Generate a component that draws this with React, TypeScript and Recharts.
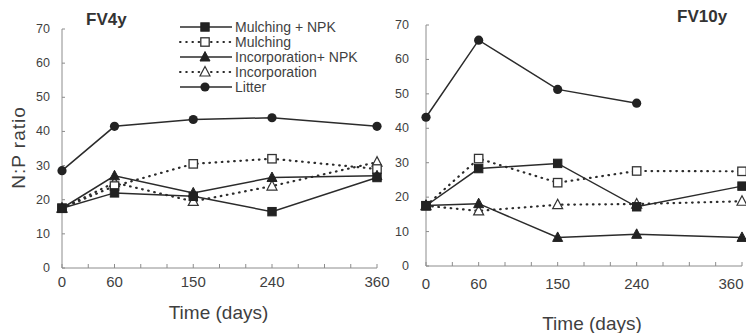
import React from 'react';
import { LineChart, Line, XAxis, YAxis, Legend } from 'recharts';

// ---------- data ----------
const days = [0, 60, 150, 240, 360];
const xTicks = [0, 30, 60, 90, 120, 150, 180, 210, 240, 270, 300, 330, 360];
const xTickLabels = [0, 60, 150, 240, 360];
const yTicks = [0, 10, 20, 30, 40, 50, 60, 70];
const seriesNames = ['Mulching + NPK', 'Mulching', 'Incorporation+ NPK', 'Incorporation', 'Litter'];
const panelTitles = ['FV4y', 'FV10y'];
const xAxisTitle = 'Time (days)';
const yAxisTitle = 'N:P ratio';

const fv4yMulchingNPK = [17.5, 22, 21, 16.5, 26.5];
const fv4yMulching = [17.5, 24, 30.5, 32, 29];
const fv4yIncorporationNPK = [17.5, 27, 22, 26.5, 27];
const fv4yIncorporation = [17.5, 25, 19.5, 24, 31];
const fv4yLitter = [28.5, 41.5, 43.5, 44, 41.5];

const fv10yMulchingNPK = [17.5, 28.3, 29.8, 17.2, 23.2];
const fv10yMulching = [17.5, 31.2, 24.2, 27.6, 27.5];
const fv10yIncorporationNPK = [17.6, 18.1, 8.3, 9.2, 8.3];
const fv10yIncorporation = [17.5, 16, 17.8, 18, 18.8];
const fv10yLitter: (number | null)[] = [43.2, 65.6, 51.3, 47.3, null];

const seriesKeys = ['mnpk', 'm', 'inpk', 'inc', 'litter'];
const seriesShapes = ['squareFilled', 'squareOpen', 'triFilled', 'triOpen', 'circle'];
const seriesDashed = [false, true, false, true, false];
const drawOrder = [3, 1, 2, 0, 4];

const buildRows = (cols: (number | null)[][]) =>
  days.map((d, i) => {
    const row: any = { day: d };
    seriesKeys.forEach((k, s) => (row[k] = cols[s][i]));
    return row;
  });

const fv4yData = buildRows([fv4yMulchingNPK, fv4yMulching, fv4yIncorporationNPK, fv4yIncorporation, fv4yLitter]);
const fv10yData = buildRows([fv10yMulchingNPK, fv10yMulching, fv10yIncorporationNPK, fv10yIncorporation, fv10yLitter]);

// ---------- styles ----------
const FONT = '"Liberation Sans", Arial, Helvetica, sans-serif';
const LINE = '#2b2b2b';
const AXIS = '#8c8c8c';
const TEXT = '#3f3f3f';
const DASH = '0.6 5.6';

const Marker = ({ shape, cx, cy }: { shape: string; cx: number; cy: number }) => {
  const s = 4.2;
  if (shape === 'squareFilled')
    return <rect x={cx - s} y={cy - s} width={2 * s} height={2 * s} fill="#222" stroke="#222" />;
  if (shape === 'squareOpen')
    return <rect x={cx - s} y={cy - s} width={2 * s} height={2 * s} fill="#fff" stroke="#333" strokeWidth={1.3} />;
  if (shape === 'triFilled')
    return <polygon points={`${cx},${cy - 5.5} ${cx - 5},${cy + 4} ${cx + 5},${cy + 4}`} fill="#222" stroke="#222" />;
  if (shape === 'triOpen')
    return (
      <polygon
        points={`${cx},${cy - 5.5} ${cx - 5},${cy + 4} ${cx + 5},${cy + 4}`}
        fill="#fff"
        stroke="#333"
        strokeWidth={1.2}
      />
    );
  return <circle cx={cx} cy={cy} r={4.6} fill="#222" />;
};

const makeDot = (shape: string, key: string) => (props: any) => {
  const { cx, cy, index, value } = props;
  if (cx == null || cy == null || value == null || Number.isNaN(cy))
    return <g key={`${key}-${index}`} />;
  return (
    <g key={`${key}-${index}`}>
      <Marker shape={shape} cx={cx} cy={cy} />
    </g>
  );
};

const XTick = (props: any) => {
  const { x, y, payload, maxX, labelDy } = props;
  const show = xTickLabels.includes(payload.value);
  const tx = Math.min(x, maxX ?? 10000);
  return (
    <g>
      <line x1={x} x2={x} y1={y} y2={y - 4} stroke={AXIS} strokeWidth={1} />
      {show && (
        <text x={tx} y={y + labelDy} textAnchor="middle" dominantBaseline="central" fontSize={15} fill={TEXT} fontFamily={FONT}>
          {payload.value}
        </text>
      )}
    </g>
  );
};

const YTick = (props: any) => {
  const { x, y, payload, gap } = props;
  return (
    <g>
      <line x1={x} x2={x + 3} y1={y} y2={y} stroke={AXIS} strokeWidth={1} />
      <text x={x - gap} y={y} textAnchor="end" dominantBaseline="central" fontSize={12.5} fill={TEXT} fontFamily={FONT}>
        {payload.value}
      </text>
    </g>
  );
};

const makeXLabel = (dx: number, y: number) => (props: any) => {
  const vb = props.viewBox || {};
  return (
    <text
      x={vb.x + vb.width / 2 + dx}
      y={y}
      textAnchor="middle"
      dominantBaseline="central"
      fontSize={19}
      fill={TEXT}
      fontFamily={FONT}
    >
      {xAxisTitle}
    </text>
  );
};

const yLabelContent = (props: any) => {
  const vb = props.viewBox || {};
  const cx = 18;
  const cy = vb.y + vb.height / 2 - 1;
  return (
    <text
      x={cx}
      y={cy}
      transform={`rotate(-90 ${cx} ${cy})`}
      textAnchor="middle"
      dominantBaseline="central"
      fontSize={19}
      letterSpacing={1}
      fill={TEXT}
      fontFamily={FONT}
    >
      {yAxisTitle}
    </text>
  );
};

const LegendContent = () => (
  <svg width={200} height={80} style={{ display: 'block' }}>
    {seriesNames.map((n, i) => {
      const y = 9 + i * 15;
      return (
        <g key={n}>
          <line
            x1={5}
            x2={57}
            y1={y}
            y2={y}
            stroke={LINE}
            strokeWidth={seriesDashed[i] ? 2 : 1.5}
            strokeDasharray={seriesDashed[i] ? DASH : undefined}
            strokeLinecap={seriesDashed[i] ? 'round' : 'butt'}
          />
          <Marker shape={seriesShapes[i]} cx={30} cy={y} />
          <text x={60} y={y} dominantBaseline="central" fontSize={14} fill={TEXT} fontFamily={FONT}>
            {n}
          </text>
        </g>
      );
    })}
  </svg>
);

const renderLines = (prefix: string) =>
  drawOrder.map((s) => (
    <Line
      key={seriesKeys[s]}
      type="linear"
      dataKey={seriesKeys[s]}
      name={seriesNames[s]}
      stroke={LINE}
      strokeWidth={seriesDashed[s] ? 2.2 : 1.5}
      strokeDasharray={seriesDashed[s] ? DASH : undefined}
      strokeLinecap={seriesDashed[s] ? 'round' : 'butt'}
      dot={makeDot(seriesShapes[s], prefix + seriesKeys[s])}
      activeDot={false}
      connectNulls={false}
      isAnimationActive={false}
    />
  ));

const titleStyle: React.CSSProperties = {
  position: 'absolute',
  fontFamily: FONT,
  fontWeight: 'bold',
  fontSize: 17,
  color: '#333',
  lineHeight: '20px',
  whiteSpace: 'nowrap',
};

export default function App() {
  return (
    <div
      style={{
        position: 'absolute',
        left: 0,
        top: 0,
        width: 746,
        height: 333,
        background: '#fff',
        overflow: 'hidden',
        fontFamily: FONT,
      }}
    >
      <div style={{ position: 'absolute', left: 0, top: 0 }}>
        <LineChart width={392} height={333} data={fv4yData} margin={{ top: 29, right: 15, bottom: 0, left: 0 }}>
          <XAxis
            dataKey="day"
            type="number"
            domain={[0, 360]}
            ticks={xTicks}
            interval={0}
            height={65}
            tickSize={0}
            tickMargin={0}
            tickLine={false}
            stroke={AXIS}
            tick={<XTick labelDy={13} />}
            label={{ content: makeXLabel(-1, 312) }}
          />
          <YAxis
            type="number"
            domain={[0, 70]}
            ticks={yTicks}
            interval={0}
            width={62}
            tickSize={0}
            tickMargin={0}
            tickLine={false}
            stroke={AXIS}
            tick={<YTick gap={12} />}
            label={{ content: yLabelContent }}
          />
          <Legend
            layout="horizontal"
            verticalAlign="middle"
            align="center"
            content={LegendContent}
            wrapperStyle={{ left: 175, top: 18, width: 200, height: 80 }}
          />
          {renderLines('a')}
        </LineChart>
      </div>
      <div style={{ position: 'absolute', left: 370, top: 0 }}>
        <LineChart width={376} height={333} data={fv10yData} margin={{ top: 25, right: 4, bottom: 0, left: 0 }}>
          <XAxis
            dataKey="day"
            type="number"
            domain={[0, 360]}
            ticks={xTicks}
            interval={0}
            height={67}
            tickSize={0}
            tickMargin={0}
            tickLine={false}
            stroke={AXIS}
            tick={<XTick labelDy={17} maxX={361} />}
            label={{ content: makeXLabel(8, 323) }}
          />
          <YAxis
            type="number"
            domain={[0, 70]}
            ticks={yTicks}
            interval={0}
            width={56}
            tickSize={0}
            tickMargin={0}
            tickLine={false}
            stroke={AXIS}
            tick={<YTick gap={17} />}
          />
          {renderLines('b')}
        </LineChart>
      </div>
      <div style={{ ...titleStyle, left: 86, top: 10 }}>{panelTitles[0]}</div>
      <div style={{ ...titleStyle, left: 677, top: 7 }}>{panelTitles[1]}</div>
    </div>
  );
}
